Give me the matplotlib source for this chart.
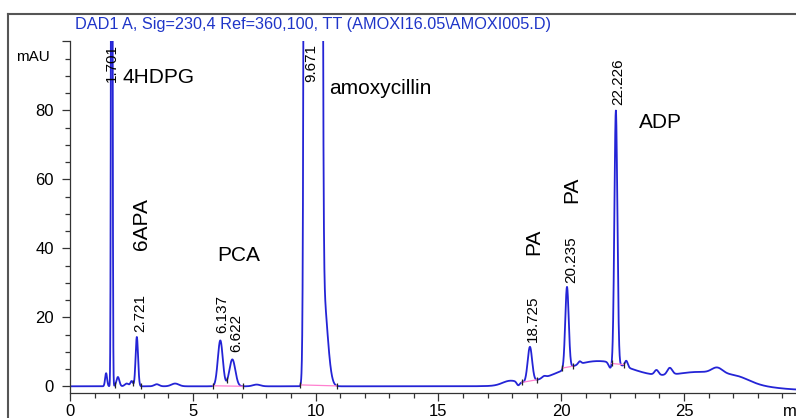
import numpy as np
import matplotlib.pyplot as plt
from matplotlib.lines import Line2D
from matplotlib.ticker import MultipleLocator

plt.rcParams['font.family'] = ['Liberation Sans', 'DejaVu Sans']

# peaks: retention time (min), height (mAU), sigma (min)
peak_rt = [1.47, 1.701, 1.95, 2.31, 2.51, 2.721, 3.53, 4.28, 6.12, 6.61, 7.6,
           9.9, 10.3, 18.725, 20.235, 22.226]
peak_height = [3.8, 300, 2.7, 0.8, 1.5, 14.3, 0.6, 0.8, 13.3, 7.8, 0.5,
               3e5, 27, 10.1, 23.7, 73.4]
peak_width = [0.04, 0.025, 0.06, 0.08, 0.05, 0.05, 0.1, 0.15, 0.1, 0.12, 0.15,
              0.1, 0.175, 0.09, 0.07, 0.06]

# slow baseline drift and small bumps late in the run
drift_rt = [17.9, 18.25, 19.3, 20.75, 21.5, 22.0, 22.65, 23.88, 24.42, 25.7,
            26.35, 27.2, 30.0]
drift_height = [1.2, -1.0, 0.5, 0.8, 7.3, -1.6, 1.8, 1.4, 2.0, 4.0, 1.7, 1.2, -1.0]
drift_width = [0.3, 0.06, 0.08, 0.06, 1.5, 0.07, 0.06, 0.08, 0.1, 1.2, 0.22, 0.5, 1.2]

# integration events (start/end of integrated peaks)
events = [1.82, 2.58, 2.9, 5.82, 6.4, 7.05, 9.38, 10.88, 18.4, 19.02,
          20.05, 20.5, 22.05, 22.55]
baselines = [(5.82, 7.05), (9.38, 10.88), (18.4, 19.02), (20.05, 20.5), (22.05, 22.55)]

# labels: retention times and compound names
rt_text = ['1.701', '2.721', '6.137', '6.622', '9.671', '18.725', '20.235', '22.226']
rt_pos = [(1.71, 88.2), (2.88, 15.7), (6.2, 15.4), (6.75, 10.0), (9.84, 88.3),
          (18.86, 12.9), (20.39, 29.9), (22.31, 81.5)]
names = ['4HDPG', 'amoxycillin', 'ADP', 'PCA']
name_pos = [(3.6, 89.4), (12.62, 86.4), (24.06, 76.5), (6.88, 37.8)]
vnames = ['6APA', 'PA', 'PA']
vname_pos = [(2.92, 47.0), (18.89, 41.9), (20.43, 56.9)]


def signal(t):
    y = np.zeros_like(t, dtype=float)
    for c, h, s in zip(peak_rt + drift_rt, peak_height + drift_height,
                       peak_width + drift_width):
        y += h * np.exp(-(t - c) ** 2 / (2 * s ** 2))
    return y


t = np.linspace(0, 29.6, 8000)
y = signal(t)

fig = plt.figure(figsize=(7.96, 4.18), dpi=100)
ax = fig.add_axes([70 / 796, 24.7 / 418, 1 - 70 / 796, 352 / 418])

ax.plot(t, y, color='#2424d6', lw=1.3)

for a, b in baselines:
    ev = np.array([a, b])
    ax.plot(ev, signal(ev), color='#ff80d0', lw=0.9)
ev = np.array(events)
ax.plot(ev, signal(ev), ls='none', marker='|', ms=5, mew=0.9, color='#222222')

for s, (x0, y0) in zip(rt_text, rt_pos):
    ax.text(x0, y0, s, rotation=90, ha='center', va='bottom', fontsize=11,
            clip_on=True)
for s, (x0, y0) in zip(names, name_pos):
    ax.text(x0, y0, s, ha='center', va='center', fontsize=15)
for s, (x0, y0) in zip(vnames, vname_pos):
    ax.text(x0, y0, s, rotation=90, ha='center', va='center', fontsize=15)

ax.set_xlim(0, 29.56)
ax.set_ylim(-2.03, 100)
ax.set_xticks([0, 5, 10, 15, 20, 25])
ax.set_yticks([0, 20, 40, 60, 80, 100])
ax.set_yticklabels(['0', '20', '40', '60', '80', ''])
ax.xaxis.set_minor_locator(MultipleLocator(1))
ax.yaxis.set_minor_locator(MultipleLocator(5))
ax.tick_params(which='major', length=5.5, width=0.9, labelsize=12, color='#333333')
ax.tick_params(which='minor', length=3.5, width=0.9, color='#333333')
ax.tick_params(axis='y', pad=6)
ax.tick_params(axis='x', pad=2.5)
for side in ['top', 'right']:
    ax.spines[side].set_visible(False)
for side in ['left', 'bottom']:
    ax.spines[side].set_color('#333333')
    ax.spines[side].set_linewidth(0.9)

fig.text(33 / 796, 1 - 57 / 418, 'mAU', ha='center', va='center', fontsize=11)
fig.text(783 / 796, 1 - 411 / 418, 'min', ha='left', va='center', fontsize=12)
fig.text(75 / 796, 1 - 24 / 418,
         r'DAD1 A, Sig=230,4 Ref=360,100, TT (AMOXI16.05\AMOXI005.D)',
         ha='left', va='center', fontsize=11.7, color='#1f35c8')

# outer frame of the report
fig.add_artist(Line2D([8 / 796, 8 / 796], [0, 1 - 14 / 418], color='#555555', lw=1.5))
fig.add_artist(Line2D([8 / 796, 1], [1 - 14 / 418, 1 - 14 / 418], color='#555555', lw=1.5))

fig.savefig('out.png', dpi=100)
